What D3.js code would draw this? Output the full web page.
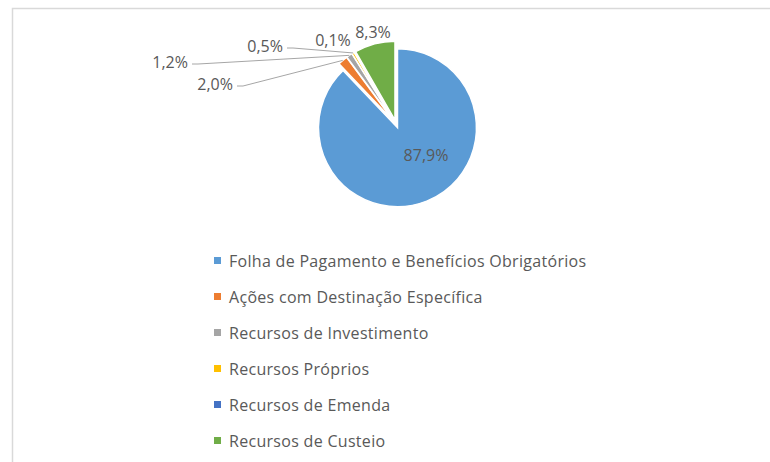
<!DOCTYPE html>
<meta charset="utf-8">
<script src="https://d3js.org/d3.v7.min.js"></script>
<style>
  body { margin: 0; background: #fff; }
  text { font-family: "Open Sans", sans-serif; fill: #595959; }
</style>
<div id="my_dataviz"></div>
<script>

// data
var categories = ["Folha de Pagamento e Benefícios Obrigatórios", "Ações com Destinação Específica",
  "Recursos de Investimento", "Recursos Próprios", "Recursos de Emenda", "Recursos de Custeio"];
var values = [87.9, 2.0, 1.2, 0.5, 0.1, 8.3];
var labels = ["87,9%", "2,0%", "1,2%", "0,5%", "0,1%", "8,3%"];
var colors = ["#5b9bd5", "#ed7d31", "#a5a5a5", "#ffc000", "#4472c4", "#70ad47"];

// label placement (layout), x,y of text anchor + whether a leader line is drawn
var labelPos = [
  {x: 426, y: 161, anchor: "middle", line: false},
  {x: 233, y: 90, anchor: "end", line: true},
  {x: 188, y: 68, anchor: "end", line: true},
  {x: 283, y: 52, anchor: "end", line: true},
  {x: 333, y: 46, anchor: "middle", line: false},
  {x: 373, y: 38, anchor: "middle", line: false}
];

var width = 770, height = 462;
var cx = 396, cy = 124, radius = 79, explode = 4;

var svg = d3.select("#my_dataviz")
  .append("svg")
    .attr("width", width)
    .attr("height", height);

// chart border
svg.append("rect")
  .attr("x", 12.5).attr("y", 8.5)
  .attr("width", width).attr("height", height)
  .attr("fill", "none")
  .attr("stroke", "#d9d9d9")
  .attr("stroke-width", 1.5);

var pie = d3.pie().sort(null).value(function(d) { return d; });
var arcs = pie(values);

var arc = d3.arc().innerRadius(0).outerRadius(radius);
var outer = d3.arc().innerRadius(radius).outerRadius(radius);

var g = svg.append("g")
  .attr("transform", "translate(" + cx + "," + cy + ")");

// slices, pushed out a bit along their bisector
g.selectAll("path")
  .data(arcs)
  .enter()
  .append("path")
    .attr("d", arc)
    .attr("transform", function(d) {
      var a = (d.startAngle + d.endAngle) / 2;
      return "translate(" + (Math.sin(a) * explode) + "," + (-Math.cos(a) * explode) + ")";
    })
    .attr("fill", function(d, i) { return colors[i]; })
    .attr("stroke", "#fff")
    .attr("stroke-width", 1.5);

// leader lines
arcs.forEach(function(d, i) {
  var p = labelPos[i];
  if (!p.line) return;
  var a = (d.startAngle + d.endAngle) / 2;
  var c = outer.centroid(d);
  var ex = c[0] + Math.sin(a) * explode + cx;
  var ey = c[1] - Math.cos(a) * explode + cy;
  var sx = p.x + 4, sy = p.y - 4;
  svg.append("polyline")
    .attr("points", [[sx, sy], [sx + 6, sy], [ex, ey]].map(function(q) { return q.join(","); }).join(" "))
    .attr("fill", "none")
    .attr("stroke", "#a6a6a6")
    .attr("stroke-width", 1);
});

// data labels
svg.selectAll(".lbl")
  .data(labels)
  .enter()
  .append("text")
    .attr("class", "lbl")
    .attr("x", function(d, i) { return labelPos[i].x; })
    .attr("y", function(d, i) { return labelPos[i].y; })
    .attr("text-anchor", function(d, i) { return labelPos[i].anchor; })
    .style("font-size", "16px")
    .text(function(d) { return d; });

// legend
var y = d3.scalePoint()
  .domain(categories)
  .range([261, 441]);

var legend = svg.append("g")
  .selectAll("g")
  .data(categories)
  .enter()
  .append("g")
    .attr("transform", function(d) { return "translate(214," + y(d) + ")"; });

legend.append("rect")
  .attr("x", 0).attr("y", -4)
  .attr("width", 7).attr("height", 7)
  .attr("fill", function(d, i) { return colors[i]; });

legend.append("text")
  .attr("x", 15)
  .attr("y", 5.5)
  .style("font-size", "16px")
  .style("letter-spacing", "0.3px")
  .text(function(d) { return d; });

</script>
